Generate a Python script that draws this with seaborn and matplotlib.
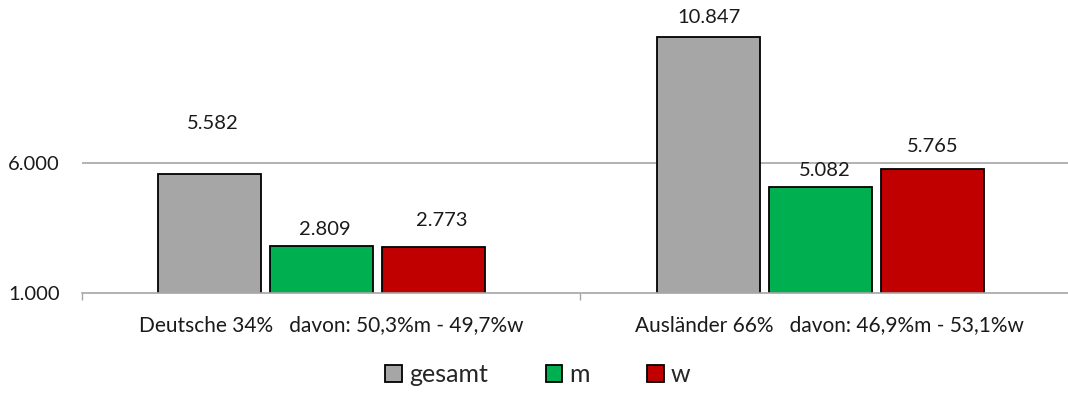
import matplotlib
matplotlib.use("Agg")
import matplotlib.pyplot as plt
import seaborn as sns
import pandas as pd

# Data
gruppen = ["Deutsche", "Ausländer"]
gruppen_labels = ["Deutsche 34%   davon: 50,3%m - 49,7%w",
                  "Ausländer 66%   davon: 46,9%m - 53,1%w"]
serien = ["gesamt", "m", "w"]
werte_deutsche = [5582, 2809, 2773]
werte_auslaender = [10847, 5082, 5765]
y_ticks = [1000, 6000]

farben = {"gesamt": "#A6A6A6", "m": "#00B050", "w": "#C00000"}

df = pd.DataFrame({
    "Gruppe": [g for g in gruppen for _ in serien],
    "Serie": serien * len(gruppen),
    "Anzahl": werte_deutsche + werte_auslaender,
})

sns.set_theme(style="white")
plt.rcParams["font.family"] = ["Lato", "DejaVu Sans"]

fig = plt.figure(figsize=(10.68, 4.05), dpi=100)
ax = fig.add_axes([82 / 1068, 1 - 293 / 405, (1068 - 82) / 1068, (293 - 10) / 405])

sns.barplot(data=df, x="Gruppe", y="Anzahl", hue="Serie", order=gruppen,
            hue_order=serien, palette=farben, width=0.675, gap=0.08,
            edgecolor="black", linewidth=1.3, saturation=1, ax=ax)

ax.set_ylim(1000, 11885)
ax.set_xlim(-0.48, 1.496)
ax.set_yticks(y_ticks, [f"{v:,}".replace(",", ".") for v in y_ticks])
ax.set_xticks([0.019, 1.017], gruppen_labels)
ax.set_xticks([-0.48, 0.518], minor=True)
ax.tick_params(axis="x", which="major", length=0, pad=16, labelsize=15, colors="#1a1a1a")
ax.tick_params(axis="x", which="minor", length=5, width=1, color="#A6A6A6", bottom=True)
ax.tick_params(axis="y", length=0, pad=16, labelsize=14.5, colors="#1a1a1a")
ax.set_xlabel("")
ax.set_ylabel("")
for side in ["top", "right", "left"]:
    ax.spines[side].set_visible(False)
ax.spines["bottom"].set_color("#A6A6A6")
ax.spines["bottom"].set_linewidth(1.2)
ax.grid(False)
ax.axhline(6000, color="#A6A6A6", lw=1.2, zorder=0)

# Value labels above bars (offsets in pixels)
offsets = {
    (0, 0): (4, 50), (0, 1): (3, 16), (0, 2): (8, 26),
    (1, 0): (1, 19), (1, 1): (4, 16), (1, 2): (0, 23),
}
for s_idx, cont in enumerate(ax.containers):
    for g_idx, bar in enumerate(cont):
        h = bar.get_height()
        dx, dy = offsets[(g_idx, s_idx)]
        ax.annotate(f"{int(round(h)):,}".replace(",", "."),
                    xy=(bar.get_x() + bar.get_width() / 2, h),
                    xytext=(dx * 0.72, dy * 0.72), textcoords="offset points",
                    ha="center", va="center", fontsize=14.5, color="#1a1a1a",
                    annotation_clip=False)

handles, labels = ax.get_legend_handles_labels()
ax.get_legend().remove()
fig.legend(handles, labels, loc="center", bbox_to_anchor=(538 / 1068, 1 - 375 / 405),
           ncol=3, frameon=False, fontsize=18, handlelength=0.65, handleheight=0.65,
           handletextpad=0.3, columnspacing=2.3)

fig.savefig("out.png", dpi=100)
